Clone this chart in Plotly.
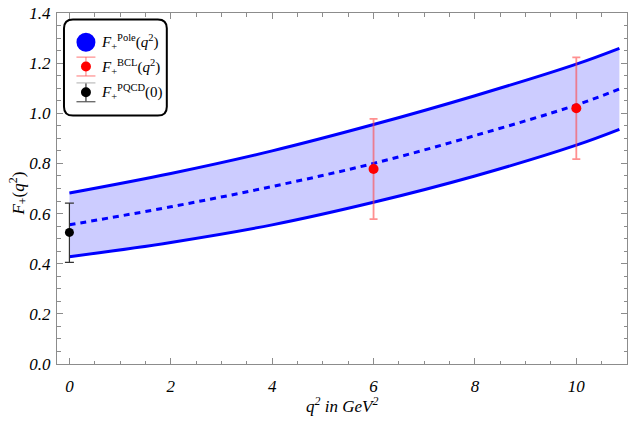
import plotly.graph_objects as go

# ---- data ----
q2_band = [0, 2, 4, 6, 8, 10, 10.85]
f_upper = [0.682, 0.760, 0.850, 0.955, 1.070, 1.196, 1.259]
f_central = [0.555, 0.627, 0.708, 0.800, 0.911, 1.033, 1.097]
f_lower = [0.428, 0.485, 0.555, 0.645, 0.750, 0.873, 0.936]

bcl_q2 = [6, 10]
bcl_f = [0.778, 1.020]
bcl_err = [0.200, 0.203]

pqcd_q2 = [0]
pqcd_f = [0.525]
pqcd_err_plus = [0.117]
pqcd_err_minus = [0.120]

x_ticks = [0, 2, 4, 6, 8, 10]
y_ticks = [0.0, 0.2, 0.4, 0.6, 0.8, 1.0, 1.2, 1.4]

W, H = 632, 421
ML, MR, MT, MB = 57, 4, 10, 57
PW, PH = W - ML - MR, H - MT - MB

BLUE = "rgb(0,0,255)"
FILL = "rgb(204,204,255)"
SERIF = "Liberation Serif"

fig = go.Figure()
# band fill
fig.add_trace(go.Scatter(x=q2_band, y=f_lower, mode="lines", line=dict(width=0, shape="spline"),
                         showlegend=False, hoverinfo="skip"))
fig.add_trace(go.Scatter(x=q2_band, y=f_upper, mode="lines", line=dict(width=0, shape="spline"),
                         fill="tonexty", fillcolor=FILL, showlegend=False, hoverinfo="skip"))
# band edges
for ys in (f_lower, f_upper):
    fig.add_trace(go.Scatter(x=q2_band, y=ys, mode="lines",
                             line=dict(color=BLUE, width=3, shape="spline"), showlegend=False))
fig.add_trace(go.Scatter(x=q2_band, y=f_central, mode="lines",
                         line=dict(color=BLUE, width=3, shape="spline", dash="6px,5px"), showlegend=False))
# BCL points
fig.add_trace(go.Scatter(x=bcl_q2, y=bcl_f, mode="markers",
                         marker=dict(color="red", size=10),
                         error_y=dict(type="data", array=bcl_err, color="rgba(255,70,70,0.6)",
                                      thickness=1.8, width=4),
                         showlegend=False))
# PQCD point
fig.add_trace(go.Scatter(x=pqcd_q2, y=pqcd_f, mode="markers",
                         marker=dict(color="black", size=9),
                         error_y=dict(type="data", symmetric=False, array=pqcd_err_plus,
                                      arrayminus=pqcd_err_minus, color="#333333",
                                      thickness=1.2, width=4.5),
                         showlegend=False, cliponaxis=False))


def px(x):
    return (x - ML) / PW


def py(y):
    return (H - MB - y) / PH


shapes = []
annotations = []

# rounded legend box
x0, y0, x1, y1, r = 64, 16.5, 167, 113.5, 9
path = (f"M {px(x0 + r)},{py(y0)} L {px(x1 - r)},{py(y0)} "
        f"Q {px(x1)},{py(y0)} {px(x1)},{py(y0 + r)} L {px(x1)},{py(y1 - r)} "
        f"Q {px(x1)},{py(y1)} {px(x1 - r)},{py(y1)} L {px(x0 + r)},{py(y1)} "
        f"Q {px(x0)},{py(y1)} {px(x0)},{py(y1 - r)} L {px(x0)},{py(y0 + r)} "
        f"Q {px(x0)},{py(y0)} {px(x0 + r)},{py(y0)} Z")
shapes.append(dict(type="path", xref="paper", yref="paper", path=path,
                   fillcolor="white", line=dict(color="black", width=2), layer="above"))

cx = 86
# blue disk
shapes.append(dict(type="circle", xref="paper", yref="paper",
                   x0=px(cx - 9.5), x1=px(cx + 9.5), y0=py(39.5 + 9.5), y1=py(39.5 - 9.5),
                   fillcolor=BLUE, line=dict(color=BLUE, width=0), layer="above"))
# red glyph
red_err = "rgba(255,90,90,0.7)"
for seg in [(cx, 54.5, cx, 73.5), (cx - 9.5, 54.5, cx + 9.5, 54.5), (cx - 9.5, 73.5, cx + 9.5, 73.5)]:
    shapes.append(dict(type="line", xref="paper", yref="paper",
                       x0=px(seg[0]), y0=py(seg[1]), x1=px(seg[2]), y1=py(seg[3]),
                       line=dict(color=red_err, width=1.2), layer="above"))
shapes.append(dict(type="circle", xref="paper", yref="paper",
                   x0=px(cx - 5), x1=px(cx + 5), y0=py(64 + 5), y1=py(64 - 5),
                   fillcolor="red", line=dict(color="red", width=0), layer="above"))
# black glyph
for seg, col in [((cx, 80.5, cx, 99.5), "#333333"), ((cx - 9.5, 80.5, cx + 9.5, 80.5), "#bbbbbb"),
                 ((cx - 9.5, 99.5, cx + 9.5, 99.5), "#555555")]:
    shapes.append(dict(type="line", xref="paper", yref="paper",
                       x0=px(seg[0]), y0=py(seg[1]), x1=px(seg[2]), y1=py(seg[3]),
                       line=dict(color=col, width=1.2), layer="above"))
shapes.append(dict(type="circle", xref="paper", yref="paper",
                   x0=px(cx - 5), x1=px(cx + 5), y0=py(90 + 5), y1=py(90 - 5),
                   fillcolor="black", line=dict(color="black", width=0), layer="above"))

legend_texts = [
    ("<i>F</i><sub>+</sub><sup>Pole</sup>(<i>q</i><sup>2</sup>)", 39.5),
    ("<i>F</i><sub>+</sub><sup>BCL</sup>(<i>q</i><sup>2</sup>)", 64),
    ("<i>F</i><sub>+</sub><sup>PQCD</sup>(0)", 90),
]
for txt, yy in legend_texts:
    annotations.append(dict(text=txt, xref="paper", yref="paper", x=px(99), y=py(yy),
                            xanchor="left", yanchor="middle", showarrow=False,
                            font=dict(family=SERIF, size=15, color="black")))

# axis titles
annotations.append(dict(text="<i>q</i><sup>2</sup><i> in GeV</i><sup>2</sup>", xref="paper", yref="paper",
                        x=px(342.5), y=py(405), xanchor="center", yanchor="middle", showarrow=False,
                        font=dict(family=SERIF, size=17, color="black", style="italic")))
annotations.append(dict(text="<i>F</i><sub>+</sub>(<i>q</i><sup>2</sup>)", xref="paper", yref="paper",
                        x=px(18), y=py(192), xanchor="center", yanchor="middle", showarrow=False,
                        textangle=-90, font=dict(family=SERIF, size=17, color="black")))

axis_common = dict(showgrid=False, zeroline=False, showline=True, linecolor="#8c8c8c", linewidth=1,
                   mirror="ticks", ticks="inside", tickcolor="#8c8c8c", tickwidth=1, ticklen=6,
                   tickfont=dict(family=SERIF, size=17, color="black", style="italic"))

fig.update_layout(
    width=W, height=H, margin=dict(l=ML, r=MR, t=MT, b=MB),
    paper_bgcolor="white", plot_bgcolor="white", showlegend=False,
    shapes=shapes, annotations=annotations,
    xaxis=dict(range=[-0.245, 11], tickvals=x_ticks, ticktext=[str(v) for v in x_ticks],
               ticklabelstandoff=7,
               minor=dict(dtick=0.5, tick0=0, ticks="inside", ticklen=3.5, tickcolor="#8c8c8c"),
               **axis_common),
    yaxis=dict(range=[0, 1.4], tickvals=y_ticks, ticktext=[f"{v:.1f}" for v in y_ticks],
               ticklabelstandoff=2,
               minor=dict(dtick=0.05, tick0=0, ticks="inside", ticklen=3.5, tickcolor="#8c8c8c"),
               **axis_common),
)

fig.write_html("out.html", config={"displayModeBar": False})

# remove default page margin so the figure fills the window exactly
with open("out.html", "r", encoding="utf-8") as f:
    html = f.read()
html = html.replace("<body>", '<body style="margin:0;padding:0;overflow:hidden;">', 1)
with open("out.html", "w", encoding="utf-8") as f:
    f.write(html)
